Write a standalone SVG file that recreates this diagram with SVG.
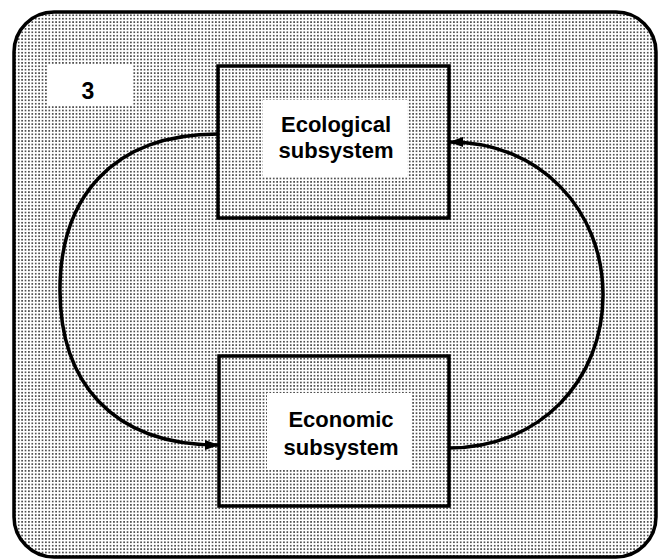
<svg xmlns="http://www.w3.org/2000/svg" width="659" height="559" viewBox="0 0 659 559">
  <style>
    .box { fill: url(#dots); stroke: #000; stroke-width: 3.5; }
    .label { fill: #fff; stroke: none; }
    .txt { font-family: "Liberation Sans", Arial, sans-serif; font-weight: bold; font-size: 22px; fill: #000; text-anchor: middle; }
    .conn { fill: none; stroke: #000; stroke-width: 3.5; }
  </style>
  <defs>
    <pattern id="dots" x="0" y="0" width="3.4" height="3.4" patternUnits="userSpaceOnUse">
      <rect width="3.4" height="3.4" fill="#fff"/>
      <rect x="1" y="1" width="1.4" height="1.4" fill="#000"/>
    </pattern>
    <marker id="arrow" viewBox="0 0 14 10" refX="13" refY="5" markerWidth="14" markerHeight="10" markerUnits="userSpaceOnUse" orient="auto">
      <path d="M0,0 L14,5 L0,10 z" fill="#000"/>
    </marker>
  </defs>

  <rect id="frame" x="14" y="12" width="642" height="545" rx="40" ry="40" fill="url(#dots)" stroke="#000" stroke-width="3.5"/>

  <g id="label3">
    <rect class="label" x="47" y="65" width="85" height="40"/>
    <text class="txt" x="88" y="99" style="font-size:23px">3</text>
  </g>

  <g id="ecological">
    <rect class="box" x="218" y="66" width="231" height="152"/>
    <rect class="label" x="263" y="100" width="144" height="77"/>
    <text class="txt" x="336" y="132">Ecological</text>
    <text class="txt" x="336" y="158">subsystem</text>
  </g>

  <g id="economic">
    <rect class="box" x="219" y="356" width="230" height="150"/>
    <rect class="label" x="267" y="393" width="145" height="77"/>
    <text class="txt" x="341" y="427">Economic</text>
    <text class="txt" x="341" y="455">subsystem</text>
  </g>

  <g id="connectors">
    <path class="conn" d="M218,134 C110,134 60,200 60,290 C60,380 110,445 218,445" marker-end="url(#arrow)"/>
    <path class="conn" d="M449,448 C540,448 603,380 603,295 C603,210 540,142 450,142" marker-end="url(#arrow)"/>
  </g>
</svg>
